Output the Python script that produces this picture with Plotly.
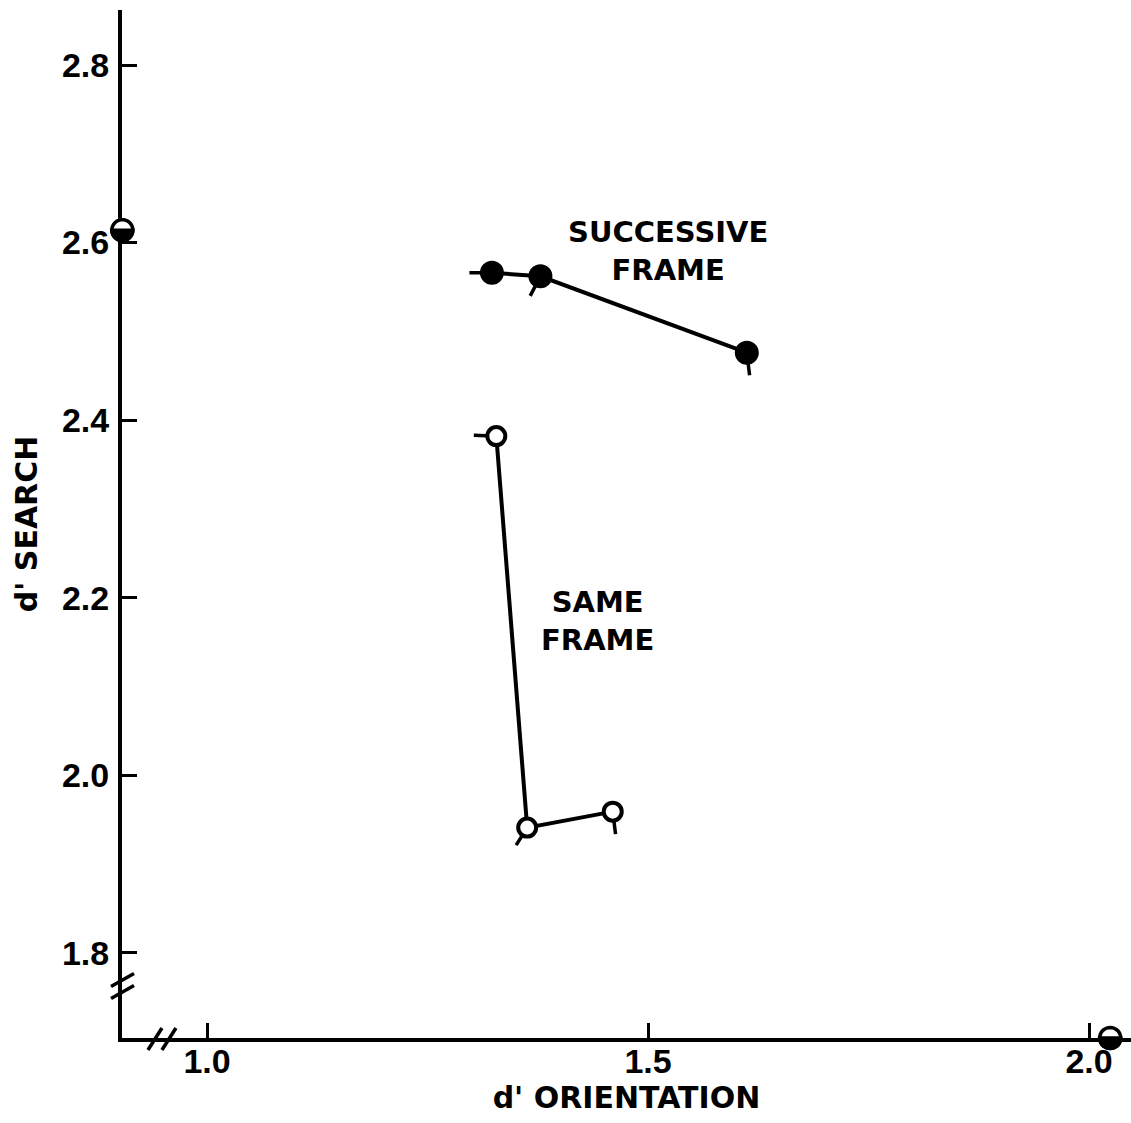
import math
import plotly.graph_objects as go

# ---- data ----
succ_x = [1.323, 1.378, 1.612]
succ_y = [2.566, 2.562, 2.476]
same_x = [1.328, 1.363, 1.460]
same_y = [2.382, 1.941, 1.959]
# off-scale points drawn on the axes
off_x = [0.904, 2.024]
off_y = [2.614, 1.704]

x_ticks = [1.0, 1.5, 2.0]
x_ticklabels = ["1.0", "1.5", "2.0"]
y_ticks = [1.8, 2.0, 2.2, 2.4, 2.6, 2.8]
y_ticklabels = ["1.8", "2.0", "2.2", "2.4", "2.6", "2.8"]

x_range = [0.9036, 2.0476]
y_range = [1.704, 2.862]

# ---- styles ----
succ_pips = [(-24, 0), (-11, 21), (3, 24)]   # pixel offsets of the small tails
same_pips = [(-24, -1), (-12, 19), (3, 24)]
INK = "black"
LABEL_FONT = dict(family="DejaVu Sans", size=29, color=INK, weight="bold")
TITLE_FONT = dict(family="DejaVu Sans", size=30, color=INK, weight="bold")
TICK_FONT = dict(family="Liberation Sans", size=34, color=INK, weight="bold")
OFF_R = 10.5  # pixel radius of the half-filled off-scale symbols

fig = go.Figure()

fig.add_trace(go.Scatter(
    x=succ_x, y=succ_y, mode="lines+markers",
    line=dict(color=INK, width=4),
    marker=dict(symbol="circle", size=21, color=INK, line=dict(color=INK, width=3)),
    showlegend=False, cliponaxis=False))

fig.add_trace(go.Scatter(
    x=same_x, y=same_y, mode="lines+markers",
    line=dict(color=INK, width=4),
    marker=dict(symbol="circle", size=18, color="white", line=dict(color=INK, width=4)),
    showlegend=False, cliponaxis=False))

annotations = []
for xs, ys, pips in [(succ_x, succ_y, succ_pips), (same_x, same_y, same_pips)]:
    for xv, yv, (dx, dy) in zip(xs, ys, pips):
        annotations.append(dict(
            x=xv, y=yv, xref="x", yref="y", ax=dx, ay=dy, axref="pixel", ayref="pixel",
            text="", showarrow=True, arrowhead=0, arrowwidth=3.5, arrowcolor=INK,
            standoff=10))

annotations.append(dict(x=1.523, y=2.59, xref="x", yref="y", text="SUCCESSIVE<br>FRAME",
                        showarrow=False, font=LABEL_FONT, align="center"))
annotations.append(dict(x=1.443, y=2.174, xref="x", yref="y", text="SAME<br>FRAME",
                        showarrow=False, font=LABEL_FONT, align="center"))

shapes = []


def poly(points):
    return "M " + " L ".join(f"{px:.2f},{py:.2f}" for px, py in points) + " Z"


full_circle = [(OFF_R * math.cos(math.radians(a)), OFF_R * math.sin(math.radians(a)))
               for a in range(0, 360, 10)]
lower_half = [(OFF_R * math.cos(math.radians(a)), OFF_R * math.sin(math.radians(a)))
              for a in range(180, 361, 10)]

# half-filled symbols for the off-scale points (anchored via the axis ranges)
for xv, yv in zip(off_x, off_y):
    xa = (xv - x_range[0]) / (x_range[1] - x_range[0])
    ya = (yv - y_range[0]) / (y_range[1] - y_range[0])
    common = dict(type="path", xref="paper", yref="paper", xsizemode="pixel",
                  ysizemode="pixel", xanchor=xa, yanchor=ya, layer="above")
    shapes.append(dict(path=poly(full_circle), fillcolor="white",
                       line=dict(color=INK, width=3.5), **common))
    shapes.append(dict(path=poly(lower_half), fillcolor=INK,
                       line=dict(color=INK, width=3.5), **common))

# axis break marks (decoration)
for yoff in (6, -6):
    shapes.append(dict(type="line", xref="paper", yref="paper",
                       xsizemode="pixel", ysizemode="pixel", xanchor=0, yanchor=0.05,
                       x0=-11, y0=yoff - 6, x1=12, y1=yoff + 7,
                       line=dict(color=INK, width=3.5), layer="above"))
for xoff in (-7, 7):
    shapes.append(dict(type="line", xref="paper", yref="paper",
                       xsizemode="pixel", ysizemode="pixel", xanchor=0.0396, yanchor=0,
                       x0=xoff - 7, y0=-12, x1=xoff + 7, y1=10,
                       line=dict(color=INK, width=3.5), layer="above"))

fig.update_layout(
    width=1131, height=1123,
    margin=dict(l=122, r=0, t=10, b=85),
    paper_bgcolor="white", plot_bgcolor="white",
    annotations=annotations, shapes=shapes,
    xaxis=dict(range=x_range, tickvals=x_ticks, ticktext=x_ticklabels,
               ticks="inside", ticklen=15, tickwidth=3, tickcolor=INK,
               showline=True, linewidth=4, linecolor=INK,
               showgrid=False, zeroline=False, tickfont=TICK_FONT,
               ticklabelstandoff=-10,
               title=dict(text="d' ORIENTATION", font=TITLE_FONT, standoff=2)),
    yaxis=dict(range=y_range, tickvals=y_ticks, ticktext=y_ticklabels,
               ticks="inside", ticklen=15, tickwidth=3, tickcolor=INK,
               showline=True, linewidth=4, linecolor=INK,
               showgrid=False, zeroline=False, tickfont=TICK_FONT,
               ticklabelstandoff=2,
               title=dict(text="d' SEARCH", font=TITLE_FONT, standoff=16)),
)

fig.write_html("out.html")
